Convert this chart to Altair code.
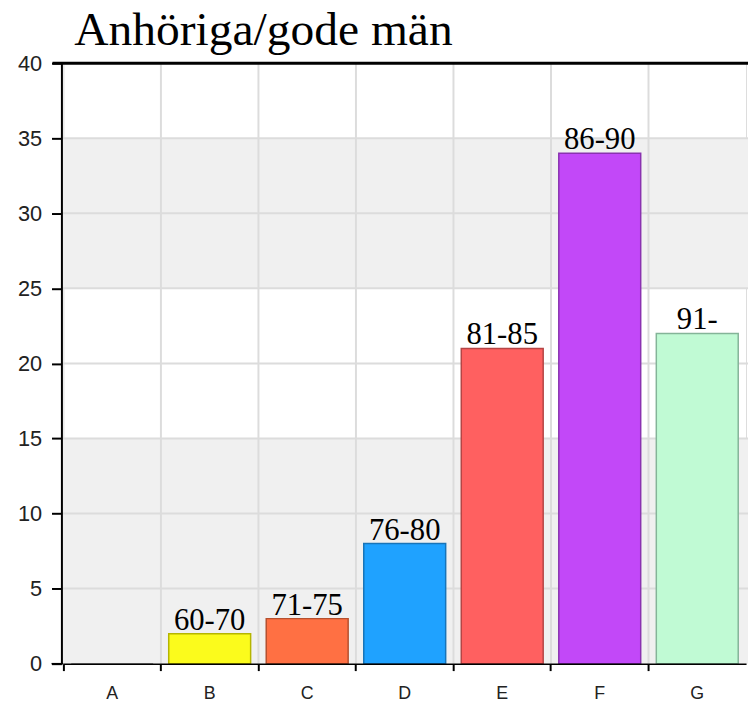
import altair as alt
import pandas as pd

title_text = "Anhöriga/gode män"
categories = ["A", "B", "C", "D", "E", "F", "G"]
values = [0, 2, 3, 8, 21, 34, 22]
bar_labels = ["", "60-70", "71-75", "76-80", "81-85", "86-90", "91-"]
fills = ["#dddddd", "#fbfb1c", "#ff7043", "#1fa2ff", "#ff6060", "#c248f8", "#c0fad4"]
strokes = ["#999999", "#b5b500", "#b5502e", "#1874b8", "#b54545", "#8a32b0", "#84b498"]
y_ticks = [0, 5, 10, 15, 20, 25, 30, 35, 40]
band_lo = [0, 25]
band_hi = [15, 35]

W, H = 690, 607

df = pd.DataFrame({"cat": categories, "value": values, "label": bar_labels})
bands = pd.DataFrame({"lo": band_lo, "hi": band_hi})
hgrid = pd.DataFrame({"v": [t for t in y_ticks if 0 < t < 40]})
vgrid = pd.DataFrame({"cat": categories[1:]})
top = pd.DataFrame({"v": [y_ticks[-1]]})
bottom = pd.DataFrame({"v": [y_ticks[0]]})
ttl = pd.DataFrame({"t": [title_text]})

xscale = alt.Scale(domain=categories, paddingInner=0, paddingOuter=0)
yscale = alt.Scale(domain=[0, 40], nice=False, zero=True)

xaxis = alt.Axis(
    title=None, bandPosition=0, labelAngle=0,
    tickSize=7, tickWidth=2, tickColor="black", domainColor="black", domainWidth=1.5,
    labelFont="Liberation Sans", labelFontSize=18, labelColor="#222222",
    labelPadding=14, grid=False, zindex=1,
)
yaxis = alt.Axis(
    title=None, values=y_ticks, tickSize=10, tickWidth=2, tickColor="black",
    domainColor="black", domainWidth=2, labelFont="Liberation Sans", labelFontSize=22,
    labelColor="#222222", labelPadding=10, grid=False, offset=2, zindex=1,
)

band_layer = alt.Chart(bands).mark_rect(color="#f0f0f0").encode(
    y=alt.Y("lo:Q", scale=yscale, axis=yaxis), y2="hi:Q",
    x=alt.value(-2), x2=alt.value(W + 2),
)
hgrid_layer = alt.Chart(hgrid).mark_rule(color="#dcdcdc", strokeWidth=2).encode(
    y=alt.Y("v:Q", scale=yscale, axis=yaxis), x=alt.value(-2), x2=alt.value(W + 2),
)
vgrid_layer = alt.Chart(vgrid).mark_rule(color="#dcdcdc", strokeWidth=2).encode(
    x=alt.X("cat:N", scale=xscale, axis=xaxis, bandPosition=0),
    y=alt.value(0), y2=alt.value(H),
)
bars = alt.Chart(df).mark_bar(width=alt.RelativeBandSize(0.84), strokeWidth=1.5).encode(
    x=alt.X("cat:N", scale=xscale, axis=xaxis),
    y=alt.Y("value:Q", scale=yscale, axis=yaxis),
    color=alt.Color("cat:N", scale=alt.Scale(domain=categories, range=fills), legend=None),
    stroke=alt.Stroke("cat:N", scale=alt.Scale(domain=categories, range=strokes), legend=None),
)
texts = alt.Chart(df).mark_text(
    font="Liberation Serif", fontSize=31, baseline="alphabetic", dy=-4, color="black"
).encode(
    x=alt.X("cat:N", scale=xscale, axis=xaxis),
    y=alt.Y("value:Q", scale=yscale, axis=yaxis),
    text="label:N",
)
top_line = alt.Chart(top).mark_rule(color="black", strokeWidth=3).encode(
    y=alt.Y("v:Q", scale=yscale, axis=yaxis), x=alt.value(-11), x2=alt.value(W + 4),
)
bottom_stub = alt.Chart(bottom).mark_rule(color="black", strokeWidth=1.5).encode(
    y=alt.Y("v:Q", scale=yscale, axis=yaxis), x=alt.value(-12), x2=alt.value(0),
)
title_layer = alt.Chart(ttl).mark_text(
    font="Liberation Serif", fontSize=48, align="left", baseline="alphabetic", color="black"
).encode(x=alt.value(11), y=alt.value(-18), text="t:N")

chart = alt.layer(
    band_layer, hgrid_layer, vgrid_layer, bars, texts, top_line, bottom_stub, title_layer
).properties(
    width=W, height=H,
    autosize=alt.AutoSizeParams(type="none"),
    padding={"left": 56, "top": 52, "right": 2, "bottom": 36},
).configure_view(stroke=None).configure(background="white")

chart.save("out.html", embed_options={"renderer": "svg", "actions": False})
